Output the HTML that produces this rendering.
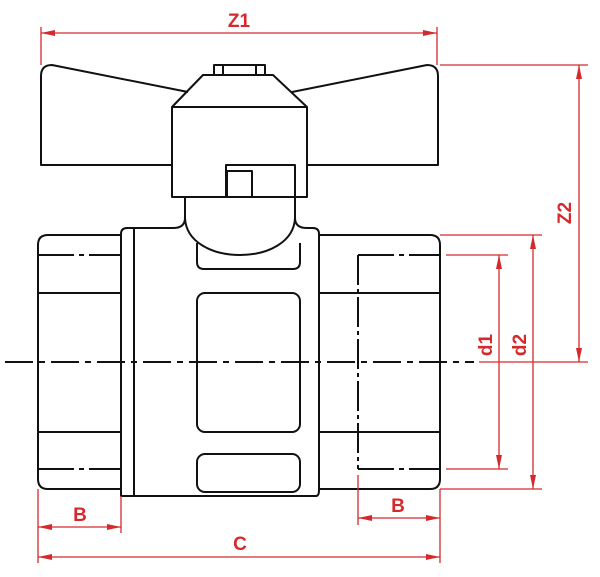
<!DOCTYPE html>
<html><head><style>
html,body{margin:0;padding:0;background:#fff;}
svg{display:block;}
text{font-family:"Liberation Sans",Arial,sans-serif;font-weight:bold;fill:#d42a2e;}
</style></head><body>
<svg width="600" height="577" viewBox="0 0 600 577" xmlns="http://www.w3.org/2000/svg">
<defs>
<marker id="a" viewBox="0 0 14 6" refX="14" refY="3" markerWidth="14" markerHeight="6" markerUnits="userSpaceOnUse" orient="auto-start-reverse">
<path d="M0,0 L14,3 L0,6 Z" fill="#d42a2e"/>
</marker>
</defs>
<g fill="none" stroke="#111" stroke-width="2" stroke-linejoin="round">
<path d="M188,92 L52,65 Q41,65 41,76 L41,165 L172,165"/>
<path d="M292,92 L427,65 Q438,65 438,76 L438,165 L307,165"/>
<rect x="214" y="65" width="51" height="10"/>
<line x1="223" y1="65" x2="223" y2="75"/>
<line x1="256" y1="65" x2="256" y2="75"/>
<path d="M172,107 L203,75 L273,75 L307,107"/>
<rect x="172" y="107" width="135" height="90"/>
<path d="M226,197 L226,165 L295,165 L295,197"/>
<rect x="227" y="171" width="25" height="26"/>
<path d="M185,197 L185,218 Q185,228 173,228 L127,228 Q121,228 121,234 L121,496 L316,496 Q319,496 319,490 L319,234 Q319,228 313,228 L307,228 Q295,228 295,218 L295,197"/>
<line x1="134" y1="228" x2="134" y2="496"/>
<path d="M185,218 C186,242 212,255 240,255 C268,255 294,242 295,218"/>
<path d="M197,243 L197,262 Q197,269 204,269 L293,269 Q300,269 300,262 L300,243"/>
<rect x="197" y="293" width="103" height="139" rx="8"/>
<rect x="197" y="454" width="103" height="38" rx="8"/>
<path d="M121,235 L48,235 Q38,235 38,245 L38,479 Q38,489 48,489 L121,489"/>
<line x1="38" y1="293" x2="121" y2="293"/>
<line x1="38" y1="432" x2="121" y2="432"/>
<line x1="38" y1="255" x2="121" y2="255" stroke-dasharray="36,5,5,5"/>
<line x1="38" y1="469" x2="121" y2="469" stroke-dasharray="36,5,5,5"/>
<path d="M319,235 L430,235 Q440,235 440,245 L440,479 Q440,489 430,489 L319,489"/>
<line x1="319" y1="293" x2="440" y2="293"/>
<line x1="319" y1="432" x2="440" y2="432"/>
<line x1="358" y1="255" x2="440" y2="255" stroke-dasharray="36,5,5,5"/>
<line x1="358" y1="469" x2="440" y2="469" stroke-dasharray="36,5,5,5"/>
<line x1="358" y1="255" x2="358" y2="469" stroke-dasharray="30,4,4,4"/>
<line x1="5" y1="362" x2="474" y2="362" stroke-dasharray="28,6,6,6"/>
</g>
<g fill="none" stroke="#d42a2e" stroke-width="1.3">
<line x1="41" y1="27" x2="41" y2="65"/>
<line x1="437" y1="27" x2="437" y2="65"/>
<line x1="41" y1="33" x2="437" y2="33" marker-start="url(#a)" marker-end="url(#a)"/>
<line x1="440" y1="65" x2="588" y2="65"/>
<line x1="479" y1="362" x2="588" y2="362"/>
<line x1="579" y1="65" x2="579" y2="362" marker-start="url(#a)" marker-end="url(#a)"/>
<line x1="440" y1="235" x2="542" y2="235"/>
<line x1="440" y1="489" x2="542" y2="489"/>
<line x1="533" y1="235" x2="533" y2="489" marker-start="url(#a)" marker-end="url(#a)"/>
<line x1="446" y1="255" x2="508" y2="255"/>
<line x1="446" y1="469" x2="508" y2="469"/>
<line x1="499" y1="255" x2="499" y2="469" marker-start="url(#a)" marker-end="url(#a)"/>
<line x1="38" y1="489" x2="38" y2="563"/>
<line x1="121" y1="496" x2="121" y2="533"/>
<line x1="38" y1="527" x2="121" y2="527" marker-start="url(#a)" marker-end="url(#a)"/>
<line x1="358" y1="475" x2="358" y2="525"/>
<line x1="440" y1="489" x2="440" y2="563"/>
<line x1="358" y1="518" x2="440" y2="518" marker-start="url(#a)" marker-end="url(#a)"/>
<line x1="38" y1="557" x2="440" y2="557" marker-start="url(#a)" marker-end="url(#a)"/>
</g>
<text x="239" y="27" font-size="19" text-anchor="middle">Z1</text>
<text x="0" y="0" font-size="19" text-anchor="middle" transform="translate(571,213) rotate(-90)">Z2</text>
<text x="0" y="0" font-size="19" text-anchor="middle" transform="translate(492,345) rotate(-90)">d1</text>
<text x="0" y="0" font-size="19" text-anchor="middle" transform="translate(526,345) rotate(-90)">d2</text>
<text x="80" y="521" font-size="19" text-anchor="middle">B</text>
<text x="398" y="512" font-size="19" text-anchor="middle">B</text>
<text x="240" y="550" font-size="19" text-anchor="middle">C</text>
</svg>
</body></html>
